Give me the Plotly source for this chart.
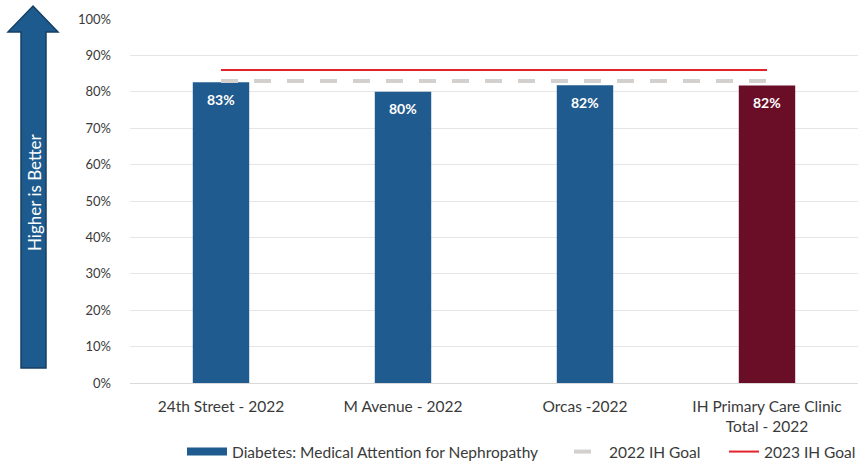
import plotly.graph_objects as go

categories = ["24th Street - 2022", "M Avenue - 2022", "Orcas -2022", "IH Primary Care Clinic<br>Total - 2022"]
values = [0.826, 0.80, 0.818, 0.817]
goal_2022 = [0.83, 0.83, 0.83, 0.83]
goal_2023 = [0.86, 0.86, 0.86, 0.86]
bar_colors = ["#1F5B8E", "#1F5B8E", "#1F5B8E", "#6A0E28"]
series_name = "Diabetes: Medical Attention for Nephropathy"

W, H = 860, 463
L, R, T, B = 130, 2, 19, 80
pw, ph = W - L - R, H - T - B

def px(x, y):
    return (x - L) / pw, (H - B - y) / ph

FONT = "Lato"
TXT = "#3A3A3A"

fig = go.Figure()
fig.add_trace(go.Bar(
    x=categories, y=values, name=series_name, showlegend=False,
    marker=dict(color=bar_colors, line=dict(width=0)), width=0.31,
))
# legend swatch for the bar series (wide rectangle, like the original)
fig.add_trace(go.Scatter(
    x=[None], y=[None], name=series_name, mode="lines",
    line=dict(color="#1F5B8E", width=8), legend="legend",
))
fig.add_trace(go.Scatter(
    x=categories, y=goal_2022, name="2022 IH Goal", mode="lines",
    line=dict(color="#D3D0CD", width=4, dash="17px,16px"), legend="legend2",
))
fig.add_trace(go.Scatter(
    x=categories, y=goal_2023, name="2023 IH Goal", mode="lines",
    line=dict(color="#E3222B", width=2), legend="legend3",
))

annotations = []
for c, v in zip(categories, values):
    annotations.append(dict(x=c, y=v, xref="x", yref="y", text=f"{v:.0%}", showarrow=False,
                            xanchor="center", yanchor="middle", yshift=-17,
                            font=dict(color="white", size=14, family=FONT, weight="bold")))

# arrow
pts = [(21, 368), (21, 32), (8, 32), (33, 6), (58, 32), (46, 32), (46, 368)]
path = "M " + " L ".join(f"{px(a,b)[0]:.4f},{px(a,b)[1]:.4f}" for a, b in pts) + " Z"
shapes = [dict(type="path", xref="paper", yref="paper", path=path,
               fillcolor="#1D5B8F", line=dict(color="#163F63", width=1.5), layer="below")]
ax, ay = px(34, 192)
annotations.append(dict(x=ax, y=ay, xref="paper", yref="paper", text="Higher is Better",
                        textangle=-90, showarrow=False, xanchor="center", yanchor="middle",
                        font=dict(color="white", size=17, family=FONT)))

def leg(xpix, iw):
    return dict(orientation="h", x=xpix / W, y=1 - 452 / H, xref="container", yref="container",
                xanchor="left", yanchor="middle", font=dict(size=15.5, color=TXT, family=FONT),
                itemwidth=iw, bgcolor="rgba(0,0,0,0)")

fig.update_layout(
    width=W, height=H, margin=dict(l=L, r=R, t=T, b=B, autoexpand=False),
    paper_bgcolor="white", plot_bgcolor="rgba(0,0,0,0)",
    font=dict(family=FONT, color=TXT, size=13),
    shapes=shapes, annotations=annotations,
    showlegend=True,
    legend=leg(182, 40), legend2=leg(569, 30), legend3=leg(724, 30),
    xaxis=dict(showgrid=False, showline=True, linecolor="#D9D9D9", ticks="", automargin=False,
               ticklabelstandoff=9, tickfont=dict(size=15.5, color=TXT)),
    yaxis=dict(range=[0, 1], dtick=0.1, tickformat=".0%", showgrid=True, automargin=False,
               gridcolor="#E6E6E6", gridwidth=1, zeroline=False, ticks="",
               showline=False, ticklabelstandoff=18,
               tickfont=dict(size=13, color=TXT)),
)
fig.write_html("out.html", config={"displayModeBar": False},
               post_script="document.body.style.margin='0';document.body.style.overflow='hidden';")
